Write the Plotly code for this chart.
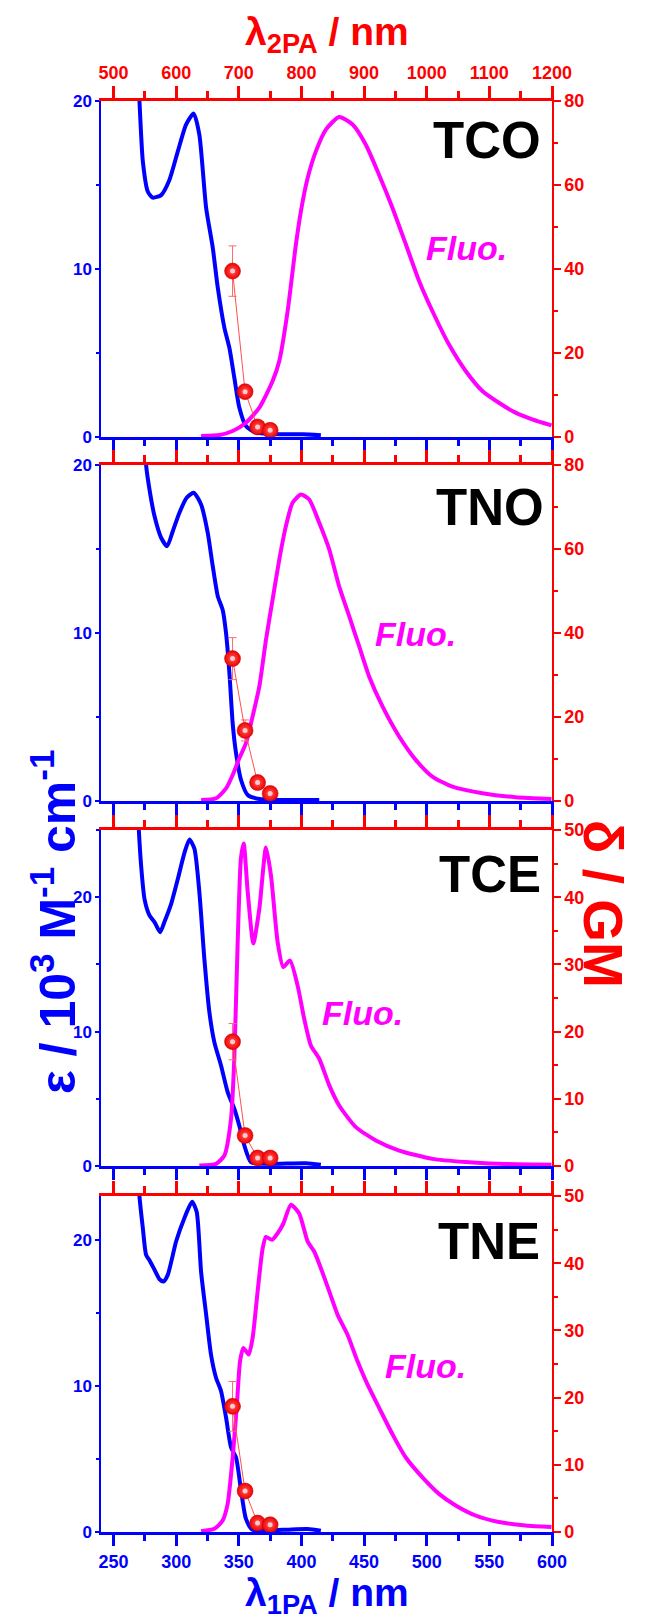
import plotly.graph_objects as go

# ---------------- data ----------------
names = ["TCO", "TNO", "TCE", "TNE"]

# absorption (1PA) epsilon / 10^3 M-1 cm-1
abs_wl_tco = [269.8, 270.7, 273.4, 277.4, 281.3, 288, 294.6, 301.3, 307.9, 314, 318.5, 323.9, 329.2, 333.2, 338.5, 342.5, 346.4, 350.4, 355.7, 363.7, 385, 401, 415.5]
abs_ep_tco = [21.5, 20, 16.4, 14.6, 14.25, 14.4, 15.3, 17.0, 18.6, 19.25, 18.0, 13.65, 11.27, 8.9, 6.5, 5.3, 3.53, 1.75, 0.65, 0.26, 0.16, 0.16, 0.1]
abs_wl_tno = [275, 276, 278.7, 282.7, 288, 292.8, 297.3, 302.6, 308.4, 314, 319.9, 325.2, 329.2, 333.2, 337.1, 339.8, 342.5, 345.1, 347.8, 351.8, 357.1, 366.4, 414.2]
abs_ep_tno = [21.5, 20, 18.55, 16.96, 15.67, 15.17, 16.06, 17.16, 18.05, 18.35, 17.65, 15.96, 13.98, 12.19, 11.39, 10.0, 7.61, 4.63, 2.84, 1.25, 0.36, 0.12, 0.06]
abs_wl_tce = [269.5, 270.2, 272, 274.7, 278.7, 282.7, 287.2, 290.6, 296, 301.3, 306.6, 310.6, 314.6, 318.5, 322.5, 326.5, 330.5, 335.8, 341.1, 346.4, 350.4, 354.4, 359.7, 371.7, 403.6, 415.5]
abs_ep_tce = [26.5, 25, 22.37, 19.88, 18.65, 18.15, 17.4, 18.15, 19.5, 21.35, 23.3, 24.3, 23.6, 20.4, 15.42, 11.45, 9.2, 7.48, 5.5, 4.26, 3.0, 1.53, 0.29, 0.16, 0.2, 0.09]
abs_wl_tne = [270, 270.7, 273.4, 276, 278.7, 282.7, 286.7, 289.9, 293.3, 300, 306.6, 312.7, 316.4, 319.9, 323.9, 327.8, 331.8, 335.8, 339.8, 343.8, 347.8, 351.8, 355.7, 361, 385, 404.9, 415.5]
abs_ep_tne = [24.5, 23, 20.8, 18.97, 18.6, 17.95, 17.3, 17.15, 17.6, 19.9, 21.5, 22.6, 21.9, 17.8, 14.9, 12.15, 10.56, 9.65, 7.84, 5.79, 5.1, 2.84, 0.9, 0.15, 0.15, 0.2, 0.09]

# fluorescence (scaled to left axis)
fl_wl_tco = [319.9, 334.5, 345.1, 355.7, 366.4, 377, 382.3, 389, 395.6, 399.6, 404.9, 411.5, 419.5, 430.1, 440.8, 451.4, 462, 472.6, 483.3, 493.9, 504.5, 517.8, 531.1, 544.4, 557.6, 570.9, 584.2, 599.6]
fl_in_tco = [0.06, 0.12, 0.36, 0.85, 1.75, 3.33, 4.52, 7.5, 11.47, 13.45, 15.4, 17.0, 18.3, 19.05, 18.6, 17.4, 15.6, 13.65, 11.47, 9.29, 7.5, 5.5, 3.93, 2.74, 2.04, 1.45, 1.05, 0.69]
fl_wl_tno = [319.9, 331.8, 339.8, 345.1, 350.4, 355.7, 361, 366.4, 371.7, 377, 382.3, 387.6, 392.9, 399.6, 406.2, 414.2, 422.2, 430.1, 438.1, 446.1, 454.1, 464.7, 478, 491.2, 504.5, 520.5, 544.4, 571, 599.6]
fl_in_tno = [0.06, 0.16, 0.75, 1.55, 2.54, 3.44, 5.03, 6.82, 9.6, 12.0, 14.37, 16.36, 17.75, 18.25, 17.95, 16.56, 14.97, 12.78, 11.0, 9.2, 7.4, 5.63, 3.84, 2.45, 1.45, 0.85, 0.46, 0.22, 0.12]
fl_wl_tce = [318.5, 331.8, 338.5, 343.8, 346.4, 349.1, 351.7, 353.9, 357.1, 361.6, 366.4, 371.7, 375.7, 381, 385.5, 390.8, 396.9, 402.2, 407.5, 414.2, 422.2, 430.1, 443.4, 459.4, 478, 504.5, 531.1, 557.6, 599.6]
fl_in_tce = [0.04, 0.16, 0.78, 3.51, 7.98, 16.66, 22.9, 24.0, 20.4, 16.56, 19.15, 23.7, 21.6, 16.66, 14.8, 15.3, 13.44, 10.96, 8.97, 7.98, 6.0, 4.5, 2.89, 1.9, 1.15, 0.53, 0.29, 0.16, 0.09]
fl_wl_tne = [319.9, 330.5, 337.1, 341.1, 345.1, 348.3, 351, 353.6, 357.9, 361, 365, 369, 371.7, 376.5, 381, 385.5, 391.6, 398.2, 404.9, 410.2, 415.5, 422.2, 428.8, 436.8, 444.7, 452.7, 462, 472.6, 483.3, 496.6, 509.8, 523.1, 539, 557.6, 578.9, 599.6]
fl_in_tne = [0.06, 0.22, 0.79, 1.93, 5.1, 8.5, 11.7, 12.6, 12.15, 13.27, 16.45, 19.4, 20.2, 20.0, 20.45, 21.1, 22.4, 21.8, 19.9, 19.2, 18.06, 16.47, 14.88, 13.5, 11.7, 10.1, 8.5, 6.7, 5.1, 3.74, 2.61, 1.82, 1.13, 0.68, 0.45, 0.34]

# two-photon cross-sections (GM) vs lambda_2PA
tpa_wl = [690, 710, 730, 750]
tpa_tco = [39.5, 10.8, 2.4, 1.6]
tpa_err_tco = [6, 1, 0.5, 0.5]
tpa_tno = [33.9, 16.8, 4.4, 1.8]
tpa_err_tno = [5, 2.5, 0.5, 0.5]
tpa_tce = [18.5, 4.54, 1.2, 1.2]
tpa_err_tce = [2.7, 0.5, 0.3, 0.3]
tpa_tne = [18.7, 6.1, 1.33, 1.08]
tpa_err_tne = [3.7, 0.5, 0.3, 0.3]

left_max = [20, 20, 25, 23]
right_max = [80, 80, 50, 50]
right_dtick = [20, 20, 10, 10]

x1_ticks = [250, 300, 350, 400, 450, 500, 550, 600]
x2_ticks = [500, 600, 700, 800, 900, 1000, 1100, 1200]

# ---------------- style ----------------
BLUE = "#0000ff"
RED = "#ff0000"
MAG = "#ff00ff"
FONT = "Liberation Sans, Arial, sans-serif"

W, H = 652, 1620
ML, MR, MT, MB = 101, 100, 101, 88
PW = W - ML - MR
PH = H - MT - MB
panel_top_px = [0, 364, 729, 1095]
panel_h = 336


def px2paper(x, y):
    return (x - ML) / PW, (H - MB - y) / PH


data = [
    (abs_wl_tco, abs_ep_tco, fl_wl_tco, fl_in_tco, tpa_tco, tpa_err_tco),
    (abs_wl_tno, abs_ep_tno, fl_wl_tno, fl_in_tno, tpa_tno, tpa_err_tno),
    (abs_wl_tce, abs_ep_tce, fl_wl_tce, fl_in_tce, tpa_tce, tpa_err_tce),
    (abs_wl_tne, abs_ep_tne, fl_wl_tne, fl_in_tne, tpa_tne, tpa_err_tne),
]

fig = go.Figure()
layout = {}


def aid(letter, n):
    return letter if n == 1 else f"{letter}{n}"


for k in range(4):
    a, b = 2 * k + 1, 2 * k + 2
    awl, aep, fwl, fin, tpa, terr = data[k]
    fig.add_trace(go.Scatter(x=awl, y=aep, mode="lines",
                             line=dict(color=BLUE, width=4, shape="spline", smoothing=0.6),
                             xaxis=aid("x", a), yaxis=aid("y", a), showlegend=False))
    fig.add_trace(go.Scatter(x=fwl, y=fin, mode="lines",
                             line=dict(color=MAG, width=4, shape="spline", smoothing=0.6),
                             xaxis=aid("x", a), yaxis=aid("y", a), showlegend=False))
    fig.add_trace(go.Scatter(
        x=tpa_wl, y=tpa, mode="lines+markers",
        line=dict(color="#ff5050", width=1),
        marker=dict(size=16, color="#f00000", line=dict(color="#c00000", width=0.5),
                    gradient=dict(type="radial", color="#ff5a5a")),
        error_y=dict(type="data", array=terr, color="#ff6a6a", thickness=1, width=4),
        xaxis=aid("x", b), yaxis=aid("y", b), showlegend=False, cliponaxis=False))
    fig.add_trace(go.Scatter(
        x=tpa_wl, y=tpa, mode="markers",
        marker=dict(size=5, color="rgba(255,225,225,0.85)", line=dict(width=0)),
        xaxis=aid("x", b), yaxis=aid("y", b), showlegend=False, cliponaxis=False, hoverinfo="skip"))

    top = panel_top_px[k]
    d1 = 1 - top / PH
    d0 = 1 - (top + panel_h) / PH
    tf_b = dict(family=FONT, size=18, color=BLUE, weight="bold")
    tf_r = dict(family=FONT, size=18, color=RED, weight="bold")
    layout["xaxis" if a == 1 else f"xaxis{a}"] = dict(
        domain=[0, 1], anchor=aid("y", a), side="bottom", range=[240, 600],
        showline=True, linecolor=BLUE, linewidth=3, ticks="outside", ticklen=11,
        tickwidth=2.5, tickcolor=BLUE, tickvals=x1_ticks, showticklabels=(k == 3),
        tickfont=tf_b, showgrid=False, zeroline=False,
        minor=dict(dtick=25, tick0=250, ticklen=6, tickwidth=2.5, tickcolor=BLUE, ticks="outside", showgrid=False))
    layout[f"xaxis{b}"] = dict(
        overlaying=aid("x", a), anchor=aid("y", a), side="top", range=[480, 1200],
        showline=True, linecolor=RED, linewidth=3, ticks="outside", ticklen=12,
        tickwidth=2.5, tickcolor=RED, tickvals=x2_ticks, showticklabels=(k == 0),
        tickfont=tf_r, showgrid=False, zeroline=False,
        minor=dict(dtick=50, tick0=500, ticklen=7, tickwidth=2.5, tickcolor=RED, ticks="outside", showgrid=False))
    layout["yaxis" if a == 1 else f"yaxis{a}"] = dict(
        domain=[d0, d1], anchor=aid("x", a), side="left", range=[0, left_max[k]],
        showline=True, linecolor=BLUE, linewidth=1.5, ticks="outside", ticklen=4,
        tickwidth=1.5, tickcolor=BLUE, dtick=10, tick0=0, tickfont=dict(family=FONT, size=17, color=BLUE, weight="bold"),
        showgrid=False, zeroline=False,
        minor=dict(dtick=5, ticklen=3, tickwidth=1.5, tickcolor=BLUE, ticks="outside", showgrid=False))
    layout[f"yaxis{b}"] = dict(
        overlaying=aid("y", a), anchor=aid("x", a), side="right", range=[0, right_max[k]],
        showline=True, linecolor=RED, linewidth=1.5, ticks="outside", ticklen=7,
        tickwidth=1.5, tickcolor=RED, dtick=right_dtick[k], tick0=0, tickfont=tf_r,
        showgrid=False, zeroline=False,
        minor=dict(dtick=right_dtick[k] / 2, ticklen=4, tickwidth=1.5, tickcolor=RED, ticks="outside", showgrid=False))

annotations = []


def ann(px, py, text, font, angle=0):
    x, y = px2paper(px, py)
    annotations.append(dict(x=x, y=y, xref="paper", yref="paper", text=text, showarrow=False,
                            xanchor="center", yanchor="middle", textangle=angle, font=font))


label_px = [(487, 141), (490, 507), (490, 874), (489, 1241)]
fluo_px = [(466.7, 248), (415, 634), (362, 1013), (425, 1366)]
for k in range(4):
    ann(*label_px[k], names[k], dict(family=FONT, size=51, color="black", weight="bold"))
    ann(*fluo_px[k], "<i>Fluo.</i>", dict(family=FONT, size=34, color=MAG, weight="bold"))

ann(327, 34, "λ<sub>2PA</sub> / nm", dict(family=FONT, size=39, color=RED, weight="bold"))
ann(327, 1595, "λ<sub>1PA</sub> / nm", dict(family=FONT, size=39, color=BLUE, weight="bold"))
ann(54, 922, "ε / 10<sup>3</sup> M<sup>-1</sup> cm<sup>-1</sup>", dict(family=FONT, size=50, color=BLUE, weight="bold"), -90)
ann(603, 904, "δ / GM", dict(family=FONT, size=55, color=RED, weight="bold"), 90)

fig.update_layout(
    width=W, height=H, margin=dict(l=ML, r=MR, t=MT, b=MB, autoexpand=False),
    paper_bgcolor="white", plot_bgcolor="white", showlegend=False,
    annotations=annotations, **layout)

fig.write_html("out.html")
